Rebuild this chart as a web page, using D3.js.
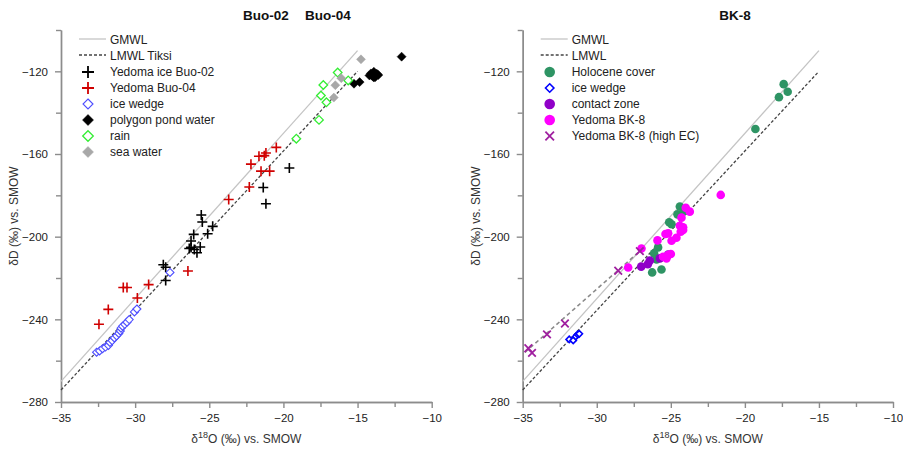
<!DOCTYPE html>
<html><head><meta charset="utf-8">
<script src="https://cdn.jsdelivr.net/npm/d3@7"></script>
<style>
body{margin:0;background:#fff;}
text{font-family:"Liberation Sans",Arial,sans-serif;}
</style></head>
<body><svg id="c" width="903" height="450"></svg>
<script>
// ---------- data ----------
const xDomain = [-35, -10];
const yDomain = [-280, -100];
const xMajorTicks = [-35, -30, -25, -20, -15, -10];
const xMinorTicks = [-32.5, -27.5, -22.5, -17.5, -12.5];
const yMajorTicks = [-280, -240, -200, -160, -120];
const yMinorTicks = [-260, -220, -180, -140, -100];

const gmwl = [[-35, -270], [-15, -110]];
const lmwl = [[-35, -274.2], [-15, -120]];
const highECLine = [[-34.85, -256], [-26.9, -205.8]];

// left panel (Buo-02 / Buo-04)
const buo02 = [[-19.6,-166.8],[-21.36,-176.2],[-21.18,-184.1],[-25.54,-189.5],[-25.47,-192.9],[-24.77,-195],[-25.11,-198.6],[-26.05,-198.9],[-26.23,-202.1],[-26.23,-205.2],[-26.01,-206.2],[-25.61,-205],[-25.83,-207.8],[-26.35,-205.7],[-28.1,-213.6],[-27.94,-214.8],[-27.94,-221.2]];
const buo04 = [[-20.48,-156.8],[-21.18,-159.5],[-21.29,-160.8],[-21.65,-161.1],[-22.19,-164.9],[-21.51,-168.3],[-20.93,-168.3],[-22.3,-176],[-23.69,-182],[-26.44,-216.6],[-30.8,-224.6],[-30.55,-224.6],[-29.09,-223.2],[-29.85,-229.7],[-31.81,-235.2],[-32.44,-242.4]];
const iceWedgeL = [[-32.6,-255.9],[-32.4,-255.3],[-32.2,-254.2],[-32.0,-253.4],[-31.8,-252.6],[-31.7,-251.2],[-31.55,-250.3],[-31.4,-249],[-31.25,-248],[-31.1,-246.8],[-31.0,-245.6],[-30.95,-244.3],[-30.85,-243.3],[-30.7,-242.4],[-30.55,-241.4],[-30.4,-240.1],[-30.05,-236.4],[-29.88,-235],[-27.65,-217.3]];
const pond = [[-13.9,-120.2],[-14.1,-121],[-13.7,-121.2],[-14.0,-122.3],[-13.8,-122.8],[-13.6,-121.8],[-14.2,-122],[-13.9,-123],[-14.86,-125.2],[-15.24,-126],[-12.03,-112.9]];
const rain = [[-16.34,-120.6],[-15.63,-124.4],[-17.31,-126.6],[-17.47,-131.7],[-17.1,-135],[-17.6,-143.5],[-19.13,-152.6]];
const sea = [[-14.77,-114.2],[-16.1,-123.3],[-16.5,-126.7],[-16.6,-132.7]];

// right panel (BK-8)
const holocene = [[-17.38,-126.2],[-17.11,-129.9],[-17.7,-132.5],[-19.29,-147.9],[-24.39,-185.4],[-24.14,-187.9],[-24.55,-189.2],[-25.11,-193],[-24.95,-194],[-25.86,-205.2],[-26.13,-208.1],[-25.96,-211],[-25.63,-215.9],[-26.26,-217.3]];
const iceWedgeR = [[-31.86,-249.7],[-31.59,-250.2],[-31.41,-248.3],[-31.29,-247.3],[-31.18,-247]];
const contact = [[-25.29,-209.7],[-25.74,-210.5],[-26.42,-211.6],[-26.55,-213.3],[-27.0,-214.5],[-25.18,-208.6]];
const bk8 = [[-21.63,-179.8],[-23.99,-186],[-23.72,-187.9],[-24.28,-190.8],[-24.39,-194.7],[-24.17,-195.5],[-24.33,-197.6],[-25.36,-198.7],[-25.18,-198.4],[-24.62,-200.5],[-24.95,-202],[-25.9,-201.8],[-26.98,-205.7],[-25.18,-208.9],[-25.0,-208.4],[-25.52,-209.7],[-27.88,-214.9],[-24.17,-196.8],[-25.29,-210.5]];
const highEC = [[-27.09,-207],[-28.55,-216.5],[-32.15,-242],[-33.36,-247.3],[-34.62,-254],[-34.37,-256.2]];

const leftLegend = ["GMWL","LMWL Tiksi","Yedoma ice Buo-02","Yedoma Buo-04","ice wedge","polygon pond water","rain","sea water"];
const rightLegend = ["GMWL","LMWL","Holocene cover","ice wedge","contact zone","Yedoma BK-8","Yedoma BK-8 (high EC)"];

// ---------- drawing ----------
const svg = d3.select("#c");
const FONT = "'Liberation Sans',Arial,sans-serif";

const sym = {
  cross: r => `M${-r},0H${r}M0,${-r}V${r}`,
  x: r => `M${-r},${-r}L${r},${r}M${-r},${r}L${r},${-r}`,
  diamond: r => `M0,${-r}L${r},0L0,${r}L${-r},0Z`,
  circle: r => d3.symbol(d3.symbolCircle, Math.PI*r*r)()
};
const styles = {
  buo02: {shape:"cross", r:5, fill:"none", stroke:"#000", sw:1.6},
  buo04: {shape:"cross", r:5, fill:"none", stroke:"#d00000", sw:1.6},
  iceL:  {shape:"diamond", r:4, fill:"#fff", stroke:"#4d4dff", sw:1.1},
  pond:  {shape:"diamond", r:4.5, fill:"#000", stroke:"#000", sw:0.5},
  rain:  {shape:"diamond", r:4.3, fill:"#fff", stroke:"#33ee33", sw:1.3},
  sea:   {shape:"diamond", r:4.5, fill:"#a8a8a8", stroke:"#a8a8a8", sw:0.5},
  holo:  {shape:"circle", r:4.3, fill:"#2e9464", stroke:"none", sw:0},
  iceR:  {shape:"diamond", r:3.2, fill:"#fff", stroke:"#0000ff", sw:1.6},
  contact:{shape:"circle", r:4.3, fill:"#9000c8", stroke:"none", sw:0},
  bk8:   {shape:"circle", r:4.3, fill:"#ff00ff", stroke:"none", sw:0},
  hec:   {shape:"x", r:3.8, fill:"none", stroke:"#a020a0", sw:1.8}
};

function panel(x0, x1, title, legendItems, series, extraLines){
  const xs = d3.scaleLinear().domain(xDomain).range([x0, x1]);
  const ys = d3.scaleLinear().domain(yDomain).range([402, 30]);
  const g = svg.append("g");
  const axisColor = "#8c8c8c";

  // axes
  const yAx = g.append("g").attr("transform",`translate(${x0},0)`)
    .call(d3.axisLeft(ys).tickValues(yMajorTicks).tickSize(6).tickSizeOuter(0).tickFormat(d3.format("d")));
  const yAxMinor = g.append("g").attr("transform",`translate(${x0},0)`)
    .call(d3.axisLeft(ys).tickValues(yMinorTicks).tickSize(5).tickSizeOuter(0).tickFormat(""));
  const xAx = g.append("g").attr("transform",`translate(0,402)`)
    .call(d3.axisBottom(xs).tickValues(xMajorTicks).tickSize(6).tickSizeOuter(0).tickFormat(d3.format("d")));
  const xAxMinor = g.append("g").attr("transform",`translate(0,402)`)
    .call(d3.axisBottom(xs).tickValues(xMinorTicks).tickSize(5).tickSizeOuter(0).tickFormat(""));
  [yAx,yAxMinor,xAx,xAxMinor].forEach(a=>{
    a.selectAll("path,line").attr("stroke",axisColor).attr("stroke-width",1.4);
    a.selectAll("text").attr("fill","#222").style("font-size","11.5px").style("font-family",FONT);
  });
  yAx.selectAll("text").attr("x",-13);
  xAx.selectAll("text").attr("y",12);

  // titles / labels
  g.append("text").attr("x",(x0+x1)/2).attr("y",443).attr("text-anchor","middle")
    .style("font-size","12px").attr("fill","#333")
    .html('δ<tspan dy="-5" font-size="9px">18</tspan><tspan dy="5">O (‰) vs. SMOW</tspan>');
  g.append("text").attr("transform",`translate(${x0-43},216) rotate(-90)`).attr("text-anchor","middle")
    .style("font-size","12px").attr("fill","#333").text("δD (‰) vs. SMOW");
  title.forEach(t=>{
    g.append("text").attr("x",t.x).attr("y",20).attr("text-anchor","middle")
      .style("font-size","13.5px").style("font-weight","bold").attr("fill","#111").text(t.text);
  });

  // lines
  const line = d3.line().x(d=>xs(d[0])).y(d=>ys(d[1]));
  g.append("path").attr("d",line(gmwl)).attr("fill","none").attr("stroke","#c4c4c4").attr("stroke-width",1.3);
  g.append("path").attr("d",line(lmwl)).attr("fill","none").attr("stroke","#444").attr("stroke-width",1.3).attr("stroke-dasharray","3,2");
  extraLines.forEach(l=>{
    g.append("path").attr("d",line(l)).attr("fill","none").attr("stroke","#8a8a8a").attr("stroke-width",1.6).attr("stroke-dasharray","4,3");
  });

  // points
  series.forEach(s=>{
    const st = styles[s.style];
    g.append("g").selectAll("path").data(s.data).join("path")
      .attr("transform",d=>`translate(${xs(d[0])},${ys(d[1])})`)
      .attr("d",sym[st.shape](st.r))
      .attr("fill",st.fill).attr("stroke",st.stroke).attr("stroke-width",st.sw);
  });

  // legend
  const lx = x0 + 18, ty = 39;
  const lg = g.append("g");
  legendItems.forEach((name,i)=>{
    const y = ty + i*16;
    lg.append("text").attr("x",lx+31).attr("y",y+4.5).style("font-size","12px").attr("fill","#222").text(name);
    if(i===0){
      lg.append("line").attr("x1",lx).attr("x2",lx+27).attr("y1",y).attr("y2",y).attr("stroke","#c4c4c4").attr("stroke-width",1.3);
    } else if(i===1){
      lg.append("line").attr("x1",lx).attr("x2",lx+27).attr("y1",y).attr("y2",y).attr("stroke","#444").attr("stroke-width",1.3).attr("stroke-dasharray","3,2");
    } else {
      const st = styles[series[i-2].style];
      const rr = st.shape==="circle" ? st.r+1 : st.shape==="x"? st.r+0.5 : st.r+1;
      lg.append("path").attr("transform",`translate(${lx+9},${y+1})`)
        .attr("d",sym[st.shape](rr)).attr("fill",st.fill).attr("stroke",st.stroke).attr("stroke-width",st.sw+ (st.shape==="cross"?0.2:0));
    }
  });
}

panel(61, 431.7, [{text:"Buo-02",x:266},{text:"Buo-04",x:328}], leftLegend, [
  {style:"buo02", data:buo02},
  {style:"buo04", data:buo04},
  {style:"iceL", data:iceWedgeL},
  {style:"pond", data:pond},
  {style:"rain", data:rain},
  {style:"sea", data:sea}
], []);

panel(522.7, 893, [{text:"BK-8",x:735}], rightLegend, [
  {style:"holo", data:holocene},
  {style:"iceR", data:iceWedgeR},
  {style:"contact", data:contact},
  {style:"bk8", data:bk8},
  {style:"hec", data:highEC}
], [highECLine]);
</script></body></html>
